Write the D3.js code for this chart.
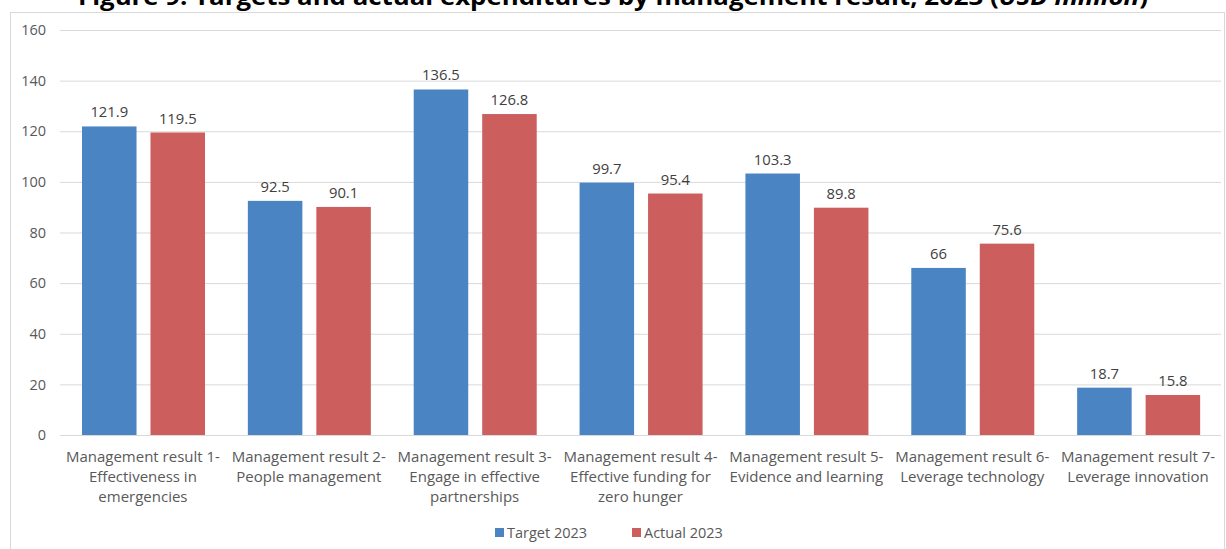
<!DOCTYPE html>
<html><head>
<meta charset="utf-8">
<script src="https://cdn.jsdelivr.net/npm/d3@7"></script>
<style>
body{
  margin: 0px;
  background: #fff;
}
text {
  font-family: "Open Sans", "Noto Sans", sans-serif;
}
.grid line {
  stroke: #d9d9d9;
  stroke-width: 1px;
}
</style>
<title>Targets and actual expenditures</title>
</head>
<body>
<script>
var width = 1226,
    height = 549;

// data
var categories = [
  ["Management result 1-", "Effectiveness in", "emergencies"],
  ["Management result 2-", "People management"],
  ["Management result 3-", "Engage in effective", "partnerships"],
  ["Management result 4-", "Effective funding for", "zero hunger"],
  ["Management result 5-", "Evidence and learning"],
  ["Management result 6-", "Leverage technology"],
  ["Management result 7-", "Leverage innovation"]
];
var seriesNames = ["Target 2023", "Actual 2023"];
var target2023 = [121.9, 92.5, 136.5, 99.7, 103.3, 66, 18.7];
var actual2023 = [119.5, 90.1, 126.8, 95.4, 89.8, 75.6, 15.8];
var yTicks = [0, 20, 40, 60, 80, 100, 120, 140, 160];
var colors = ["#4a84c2", "#cd5e5e"];

var svg = d3.select("body").append("svg")
    .attr("width", width)
    .attr("height", height);

// title (cut off at top, as in the picture)
var title = svg.append("text")
  .attr("x", 613)
  .attr("y", 5)
  .attr("text-anchor", "middle")
  .attr("font-family", "'Liberation Sans', sans-serif")
  .attr("font-weight", "bold")
  .attr("font-size", 23)
  .attr("textLength", 1070)
  .attr("lengthAdjust", "spacingAndGlyphs")
  .attr("fill", "#000");
title.append("tspan").text("Figure 9: Targets and actual expenditures by management result, 2023 (");
title.append("tspan").attr("font-style", "italic").text("USD million");
title.append("tspan").text(")");

// chart frame
svg.append("rect")
  .attr("x", 10.5)
  .attr("y", 12.5)
  .attr("width", 1214)
  .attr("height", 545)
  .attr("fill", "none")
  .attr("stroke", "#d9d9d9");

var y = d3.scaleLinear().domain([0, 160]).range([435, 30]);
var x0 = d3.scaleBand().domain(d3.range(categories.length)).range([60, 1221]);
var x1 = d3.scaleBand().domain(d3.range(seriesNames.length)).range([22, 145]).paddingInner(0.204);

// gridlines + y labels
var yAxis = d3.axisLeft(y).tickValues(yTicks).tickSize(-(1221 - 60)).tickPadding(14);
var ga = svg.append("g").attr("class", "grid").attr("transform", "translate(60,0)").call(yAxis);
ga.select(".domain").remove();
ga.selectAll("text")
  .attr("font-family", "'Open Sans', sans-serif")
  .attr("font-size", 14.5)
  .attr("fill", "#595959");

var values = [target2023, actual2023];

var groups = svg.append("g").selectAll("g")
  .data(categories)
  .enter().append("g")
  .attr("transform", function(d, i){ return "translate(" + x0(i) + ",0)"; });

groups.selectAll("rect")
  .data(function(d, i){ return values.map(function(v, s){ return {s: s, v: v[i]}; }); })
  .enter().append("rect")
  .attr("x", function(d){ return x1(d.s); })
  .attr("y", function(d){ return y(d.v); })
  .attr("width", x1.bandwidth())
  .attr("height", function(d){ return y(0) - y(d.v); })
  .attr("fill", function(d){ return colors[d.s]; });

groups.selectAll("text.val")
  .data(function(d, i){ return values.map(function(v, s){ return {s: s, v: v[i]}; }); })
  .enter().append("text")
  .attr("class", "val")
  .attr("x", function(d){ return x1(d.s) + x1.bandwidth() / 2; })
  .attr("y", function(d){ return y(d.v) - 9; })
  .attr("text-anchor", "middle")
  .attr("font-size", 14.8)
  .attr("fill", "#404040")
  .text(function(d){ return d.v; });

// x axis baseline
svg.append("line")
  .attr("x1", 60).attr("x2", 1221)
  .attr("y1", y(0) + 0.5).attr("y2", y(0) + 0.5)
  .attr("stroke", "#d9d9d9");

// category labels
groups.append("text")
  .attr("text-anchor", "middle")
  .attr("font-size", 15)
  .attr("fill", "#595959")
  .selectAll("tspan")
  .data(function(d){ return d; })
  .enter().append("tspan")
  .attr("x", x0.bandwidth() / 2)
  .attr("y", function(d, j){ return 462 + j * 20; })
  .text(function(d){ return d; });

// legend
var legend = svg.append("g").attr("transform", "translate(495,533)");
var lx = [0, 137];
seriesNames.forEach(function(name, s){
  legend.append("rect")
    .attr("x", lx[s]).attr("y", -5)
    .attr("width", 9).attr("height", 9)
    .attr("fill", colors[s]);
  legend.append("text")
    .attr("x", lx[s] + 12).attr("y", 5)
    .attr("font-size", 14.5)
    .attr("fill", "#595959")
    .text(name);
});
</script>
</body></html>
